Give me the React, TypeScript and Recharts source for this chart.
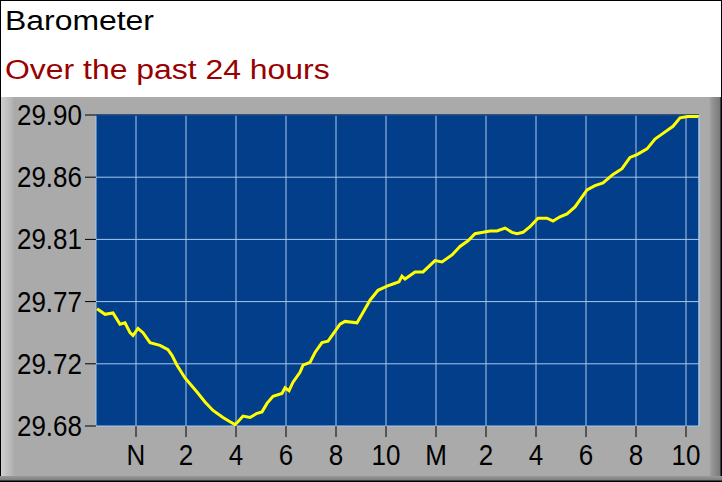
import React from 'react';
import { LineChart, Line, XAxis, YAxis, CartesianGrid, ReferenceLine } from 'recharts';

// Hours since chart start (chart spans ~24 h, noon "N" at 1.6 h)
const HOURS = [
  0.04, 0.36, 0.68, 0.96, 1.16, 1.36, 1.48, 1.68, 1.88, 2.16, 2.56, 2.88, 3.04, 3.24, 3.56,
  4.04, 4.36, 4.68, 5.08, 5.36, 5.56, 5.68, 5.88, 6.16, 6.44, 6.64, 6.84, 7.08, 7.44, 7.56,
  7.72, 7.88, 8.16, 8.28, 8.56, 8.76, 9.04, 9.28, 9.48, 9.76, 9.96, 10.44, 10.64, 10.96,
  11.28, 11.64, 11.96, 12.12, 12.24, 12.36, 12.76, 13.08, 13.56, 13.84, 14.24, 14.56, 14.88,
  15.16, 15.48, 15.76, 16.04, 16.36, 16.64, 16.84, 17.08, 17.36, 17.68, 18.04, 18.28, 18.56,
  18.84, 19.16, 19.64, 19.96, 20.28, 20.68, 21.04, 21.36, 21.64, 22.04, 22.36, 22.68, 23.08,
  23.36, 23.68, 24.04, 24.12,
];
const PRESSURE = [
  29.763, 29.759, 29.760, 29.752, 29.753, 29.746, 29.744, 29.749, 29.746, 29.739, 29.737, 29.734, 29.730, 29.723, 29.714,
  29.704, 29.697, 29.691, 29.686, 29.683, 29.681, 29.683, 29.687, 29.686, 29.689, 29.690, 29.696, 29.701, 29.703, 29.707,
  29.705, 29.711, 29.718, 29.723, 29.725, 29.732, 29.739, 29.740, 29.745, 29.752, 29.754, 29.753, 29.759, 29.769,
  29.776, 29.779, 29.781, 29.782, 29.786, 29.784, 29.789, 29.789, 29.797, 29.796, 29.801, 29.807, 29.811,
  29.816, 29.817, 29.818, 29.818, 29.820, 29.817, 29.816, 29.817, 29.821, 29.827, 29.827, 29.825, 29.828,
  29.830, 29.835, 29.847, 29.850, 29.852, 29.858, 29.862, 29.870, 29.872, 29.876, 29.883, 29.887, 29.892,
  29.898, 29.899, 29.899, 29.901,
];

const X_MAX = 24.12;
const X_TICKS = [1.6, 3.6, 5.6, 7.6, 9.6, 11.6, 13.6, 15.6, 17.6, 19.6, 21.6, 23.6];
const X_LABELS = ['N', '2', '4', '6', '8', '10', 'M', '2', '4', '6', '8', '10'];
const Y_TICKS = [29.68, 29.724, 29.768, 29.812, 29.856, 29.9];
const Y_LABELS = ['29.68', '29.72', '29.77', '29.81', '29.86', '29.90'];

const TITLE = 'Barometer';
const SUBTITLE = 'Over the past 24 hours';

const data = HOURS.map((h, i) => ({ h, p: PRESSURE[i] }));

const FONT = '"Liberation Sans", Arial, sans-serif';

const YTick = (props: any) => {
  const { x, y, payload } = props;
  const idx = Y_TICKS.findIndex((t) => Math.abs(t - payload.value) < 1e-6);
  return (
    <g transform={`translate(${x},${y}) scale(1,1.12)`}>
      <text x={0} y={9} textAnchor="end" fontSize={26} fontFamily={FONT} fill="#000">
        {idx >= 0 ? Y_LABELS[idx] : payload.value}
      </text>
    </g>
  );
};

const XTick = (props: any) => {
  const { x, y, payload } = props;
  const idx = X_TICKS.findIndex((t) => Math.abs(t - payload.value) < 1e-6);
  return (
    <g transform={`translate(${x},${y}) scale(1,1.12)`}>
      <text x={0} y={25} textAnchor="middle" fontSize={26} fontFamily={FONT} fill="#000">
        {idx >= 0 ? X_LABELS[idx] : ''}
      </text>
    </g>
  );
};

export default function App() {
  return (
    <div style={{ position: 'absolute', left: 0, top: 0, width: 722, height: 482, overflow: 'hidden', background: '#fff' }}>
      {/* header */}
      <div style={{ position: 'absolute', left: 0, top: 0, width: 720, height: 96, borderLeft: '1px solid #000', borderTop: '1px solid #000', borderRight: '1px solid #000', background: '#fff' }} />
      <svg width={722} height={97} style={{ position: 'absolute', left: 0, top: 0 }}>
        <text transform="translate(5,30) scale(1.14,1)" fontSize={28} fontFamily={FONT} fill="#000">{TITLE}</text>
        <text transform="translate(5,79) scale(1.14,1)" fontSize={28} fontFamily={FONT} fill="#990000">{SUBTITLE}</text>
      </svg>
      {/* grey panel */}
      <div style={{
        position: 'absolute', left: 0, top: 97, width: 722, height: 385,
        background: 'linear-gradient(to right, #000 0px, #000 1px, #cfcfcf 1px, #b4b4b4 12px, #aaaaaa 14px, #aaaaaa 709px, #959595 712px, #7a7a7a 720px, #000 721px)',
      }} />
      <div style={{
        position: 'absolute', left: 0, top: 476, width: 722, height: 6,
        background: 'linear-gradient(to bottom, #9a9a9a 0px, #808080 4px, #000 5px)',
      }} />
      <div style={{ position: 'absolute', left: 0, top: 0 }}>
        <LineChart width={722} height={482} data={data} margin={{ top: 115, right: 23, bottom: 0, left: 0 }}>
          <CartesianGrid fill="#023e8a" stroke="#a9c8ee" strokeWidth={1} />
          <XAxis
            dataKey="h"
            type="number"
            domain={[0, X_MAX]}
            ticks={X_TICKS}
            interval={0}
            height={56}
            axisLine={false}
            tickLine={{ stroke: '#000', strokeWidth: 1 }}
            tickSize={11}
            tickMargin={0}
            tick={<XTick />}
            allowDataOverflow
          />
          <YAxis
            type="number"
            domain={[29.68, 29.9]}
            ticks={Y_TICKS}
            interval={0}
            width={96}
            axisLine={false}
            tickLine={{ stroke: '#000', strokeWidth: 1 }}
            tickSize={11}
            tickMargin={3}
            tick={<YTick />}
            allowDataOverflow
          />
          <ReferenceLine y={29.9} stroke="#0a2f66" strokeWidth={1.5} />
          <ReferenceLine x={X_MAX} stroke="#a9c8ee" strokeWidth={1} />
          <Line
            type="linear"
            dataKey="p"
            stroke="#ffff00"
            strokeWidth={3}
            dot={false}
            isAnimationActive={false}
          />
        </LineChart>
      </div>
    </div>
  );
}
